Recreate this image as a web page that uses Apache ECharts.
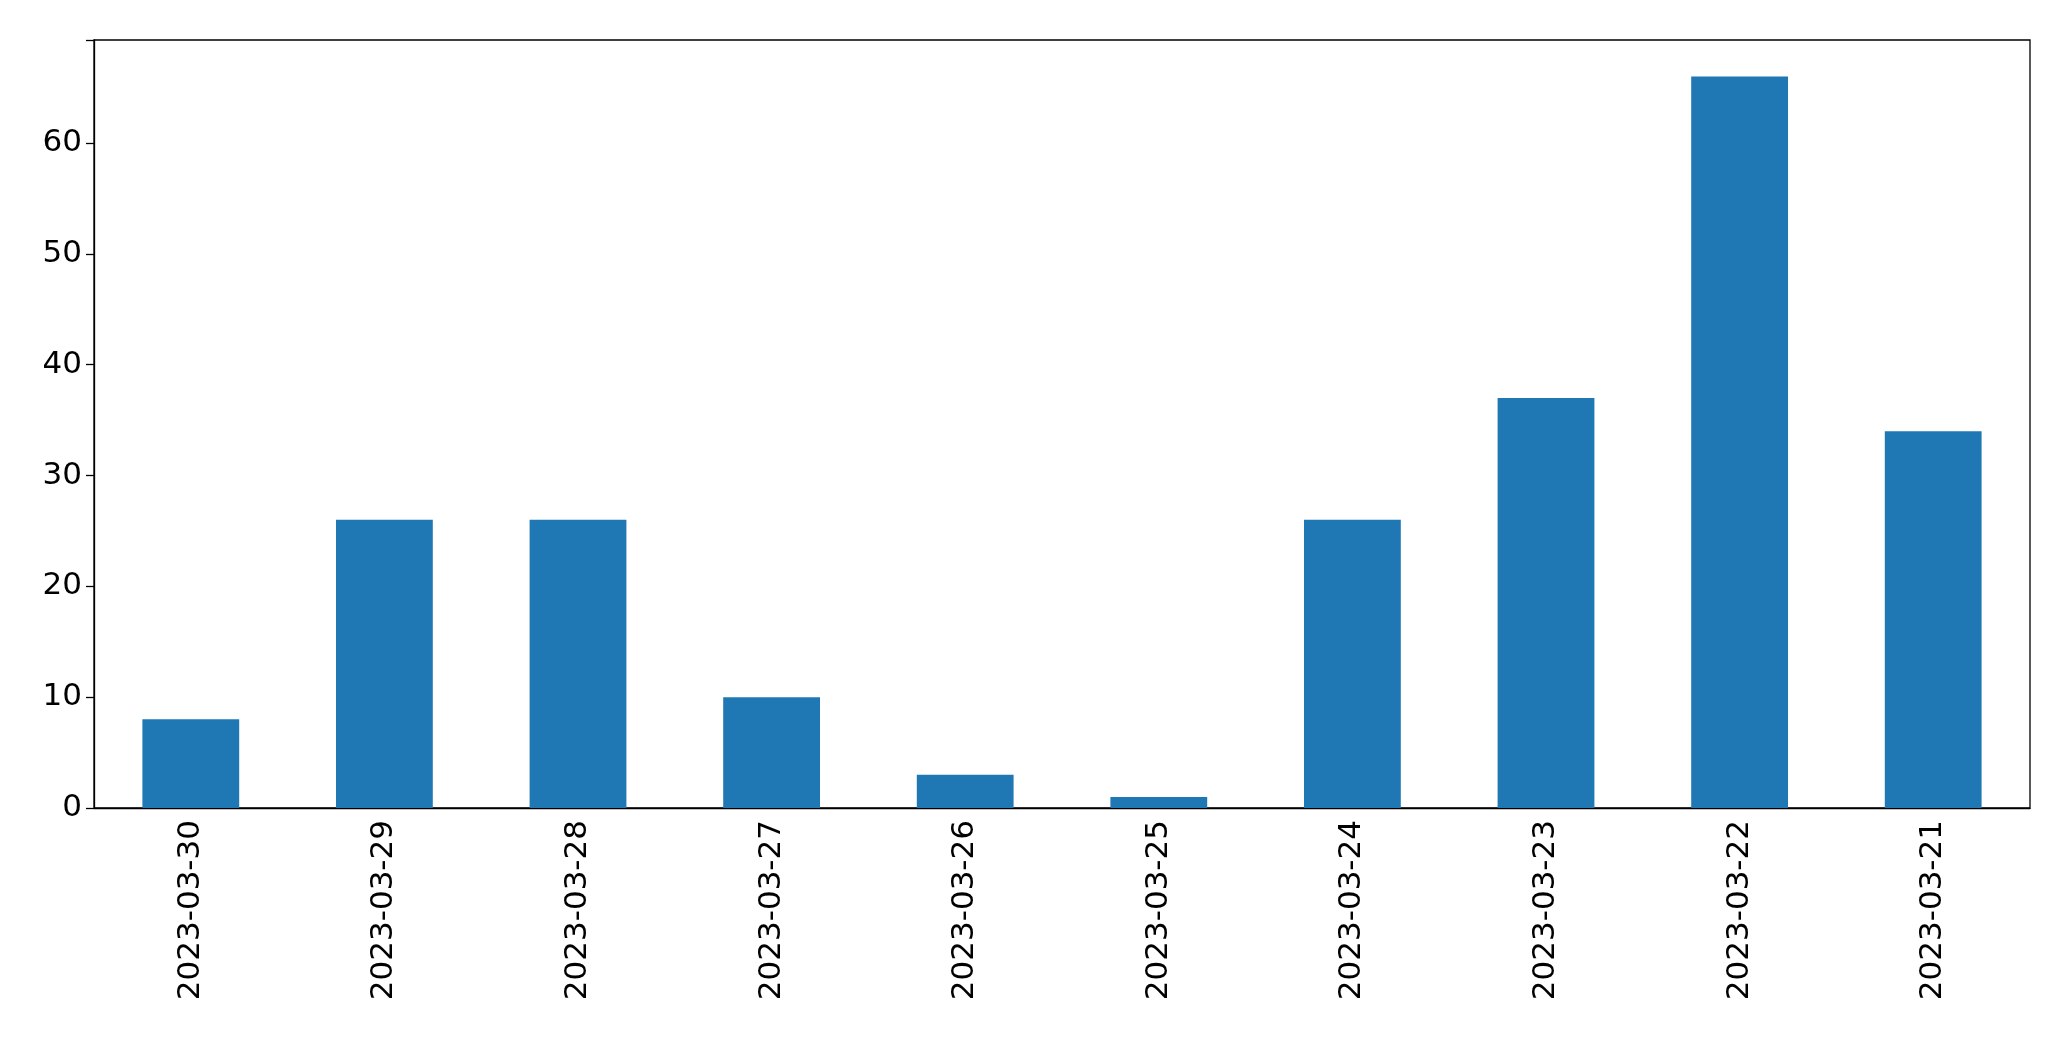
<!DOCTYPE html>
<html>
<head>
<meta charset="utf-8">
<script src="https://cdn.jsdelivr.net/npm/echarts@6/dist/echarts.min.js"></script>
<style>html,body{margin:0;padding:0;background:#fff}#chart{width:2071px;height:1061px}</style>
</head>
<body>
<div id="chart"></div>
<script>
// dates, newest first as in the picture
var dates = ["2023-03-30","2023-03-29","2023-03-28","2023-03-27","2023-03-26","2023-03-25","2023-03-24","2023-03-23","2023-03-22","2023-03-21"];
var counts = [8, 26, 26, 10, 3, 1, 26, 37, 66, 34];
var yTicks = [0, 10, 20, 30, 40, 50, 60];

var chart = echarts.init(document.getElementById('chart'));
var font = "DejaVu Sans";
chart.setOption({
    animation: false,
    grid: {left: 94, right: 41, top: 40, bottom: 253, show: true, borderColor: "#000", borderWidth: 1.3},
    xAxis: {
        type: "category",
        data: dates,
        axisLine: {lineStyle: {color: "#000", width: 1.3}},
        axisTick: {alignWithLabel: true, length: 8, lineStyle: {color: "#000", width: 1.3}},
        axisLabel: {rotate: 90, color: "#000", fontSize: 31, fontFamily: font, margin: 12}
    },
    yAxis: {
        type: "value",
        min: 0,
        max: 69.3,
        interval: 10,
        splitLine: {show: false},
        axisLine: {show: true, lineStyle: {color: "#000", width: 1.3}},
        axisTick: {show: true, length: 8, lineStyle: {color: "#000", width: 1.3}},
        axisLabel: {
            color: "#000", fontSize: 31, fontFamily: font, margin: 12,
            formatter: function (v) { return yTicks.indexOf(v) >= 0 ? String(v) : ""; }
        }
    },
    series: [{
        type: "bar",
        data: counts,
        barWidth: "50%",
        itemStyle: {color: "#1f77b4"}
    }]
});
</script>
</body>
</html>
